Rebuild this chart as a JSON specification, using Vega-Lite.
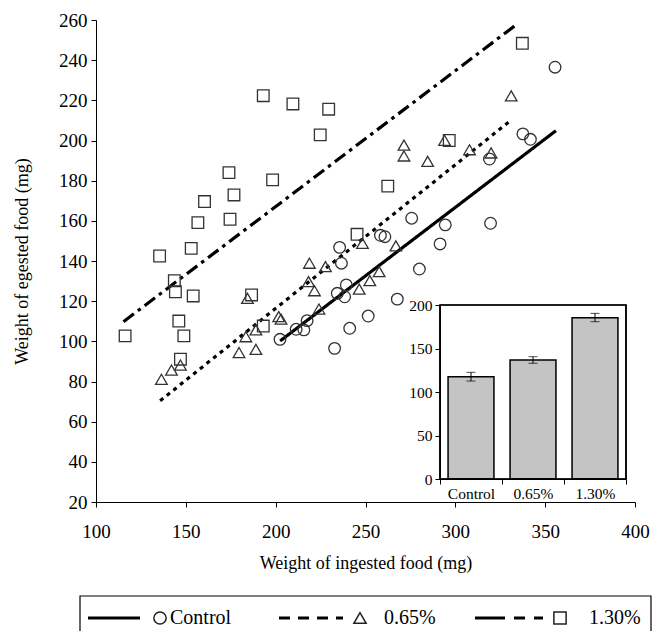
{
  "$schema": "https://vega.github.io/schema/vega-lite/v6.json",
  "background": "white",
  "autosize": {"type": "none"},
  "padding": {"left": 80, "top": 20, "right": 4, "bottom": 129},
  "width": 571,
  "height": 482,
  "config": {
    "font": "Liberation Serif",
    "view": {"stroke": null},
    "axis": {"labelColor": "black", "titleColor": "black", "domainColor": "black", "tickColor": "black", "grid": false, "labelFont": "Liberation Serif", "titleFont": "Liberation Serif", "titleFontWeight": "normal", "labelFlush": false, "labelOverlap": false}
  },
  "datasets": {
    "points": [
      {"group": "Control", "x": 202.4, "y": 101},
      {"group": "Control", "x": 211.4, "y": 106},
      {"group": "Control", "x": 215.7, "y": 105.7},
      {"group": "Control", "x": 217.5, "y": 110.3},
      {"group": "Control", "x": 232.8, "y": 96.5},
      {"group": "Control", "x": 234.3, "y": 123.9},
      {"group": "Control", "x": 235.6, "y": 146.8},
      {"group": "Control", "x": 236.6, "y": 138.9},
      {"group": "Control", "x": 238.4, "y": 122.2},
      {"group": "Control", "x": 239.3, "y": 128.1},
      {"group": "Control", "x": 241.2, "y": 106.5},
      {"group": "Control", "x": 251.5, "y": 112.6},
      {"group": "Control", "x": 258.3, "y": 152.8},
      {"group": "Control", "x": 260.8, "y": 152.1},
      {"group": "Control", "x": 267.7, "y": 121},
      {"group": "Control", "x": 275.7, "y": 161.3},
      {"group": "Control", "x": 280, "y": 136},
      {"group": "Control", "x": 291.5, "y": 148.5},
      {"group": "Control", "x": 294.4, "y": 158},
      {"group": "Control", "x": 319, "y": 190.8},
      {"group": "Control", "x": 319.6, "y": 158.8},
      {"group": "Control", "x": 337.6, "y": 203.3},
      {"group": "Control", "x": 341.8, "y": 200.6},
      {"group": "Control", "x": 355.5, "y": 236.5},
      {"group": "0.65%", "x": 136.4, "y": 81.1},
      {"group": "0.65%", "x": 142, "y": 85.7},
      {"group": "0.65%", "x": 147, "y": 88.2},
      {"group": "0.65%", "x": 179.6, "y": 94.4},
      {"group": "0.65%", "x": 189, "y": 96},
      {"group": "0.65%", "x": 183.4, "y": 102.3},
      {"group": "0.65%", "x": 189, "y": 105.7},
      {"group": "0.65%", "x": 184.3, "y": 121.4},
      {"group": "0.65%", "x": 201.7, "y": 112.3},
      {"group": "0.65%", "x": 203, "y": 111.1},
      {"group": "0.65%", "x": 218.3, "y": 129.7},
      {"group": "0.65%", "x": 218.8, "y": 138.9},
      {"group": "0.65%", "x": 221.6, "y": 125.2},
      {"group": "0.65%", "x": 224.1, "y": 116.1},
      {"group": "0.65%", "x": 227.7, "y": 137.2},
      {"group": "0.65%", "x": 246.5, "y": 126},
      {"group": "0.65%", "x": 252.4, "y": 130.2},
      {"group": "0.65%", "x": 257.6, "y": 134.7},
      {"group": "0.65%", "x": 248.3, "y": 148.8},
      {"group": "0.65%", "x": 266.9, "y": 147.5},
      {"group": "0.65%", "x": 271.4, "y": 197.7},
      {"group": "0.65%", "x": 271.4, "y": 192.3},
      {"group": "0.65%", "x": 284.6, "y": 189.6},
      {"group": "0.65%", "x": 294, "y": 200.1},
      {"group": "0.65%", "x": 307.9, "y": 195.4},
      {"group": "0.65%", "x": 319.9, "y": 193.8},
      {"group": "0.65%", "x": 331.1, "y": 222.2},
      {"group": "1.30%", "x": 116.2, "y": 102.7},
      {"group": "1.30%", "x": 135.4, "y": 142.5},
      {"group": "1.30%", "x": 143.6, "y": 130.2},
      {"group": "1.30%", "x": 144.2, "y": 124.7},
      {"group": "1.30%", "x": 146.1, "y": 110.1},
      {"group": "1.30%", "x": 148.9, "y": 102.7},
      {"group": "1.30%", "x": 147, "y": 91.1},
      {"group": "1.30%", "x": 153, "y": 146.3},
      {"group": "1.30%", "x": 154.1, "y": 122.6},
      {"group": "1.30%", "x": 156.7, "y": 159.1},
      {"group": "1.30%", "x": 160.4, "y": 169.6},
      {"group": "1.30%", "x": 174, "y": 184},
      {"group": "1.30%", "x": 174.6, "y": 160.8},
      {"group": "1.30%", "x": 176.8, "y": 172.9},
      {"group": "1.30%", "x": 186.6, "y": 123.1},
      {"group": "1.30%", "x": 193.1, "y": 222.3},
      {"group": "1.30%", "x": 193.1, "y": 107.6},
      {"group": "1.30%", "x": 198.3, "y": 180.4},
      {"group": "1.30%", "x": 209.6, "y": 218.2},
      {"group": "1.30%", "x": 224.8, "y": 202.8},
      {"group": "1.30%", "x": 229.5, "y": 215.6},
      {"group": "1.30%", "x": 245.3, "y": 153.3},
      {"group": "1.30%", "x": 262.4, "y": 177.3},
      {"group": "1.30%", "x": 296.6, "y": 200},
      {"group": "1.30%", "x": 337.3, "y": 248.4}
    ],
    "fits": [
      {"group": "Control", "x": 202.5, "y": 100.2},
      {"group": "Control", "x": 356, "y": 204.9},
      {"group": "0.65%", "x": 135.7, "y": 70.4},
      {"group": "0.65%", "x": 330, "y": 209.4},
      {"group": "1.30%", "x": 115.3, "y": 109.8},
      {"group": "1.30%", "x": 334.4, "y": 258}
    ],
    "bars": [
      {"group": "Control", "mean": 117.6, "low": 112.6, "high": 122.6},
      {"group": "0.65%", "mean": 136.8, "low": 133, "high": 140.6},
      {"group": "1.30%", "mean": 185.4, "low": 180.8, "high": 190.4}
    ],
    "legend": [
      {"group": "Control"},
      {"group": "0.65%"},
      {"group": "1.30%"}
    ]
  },
  "resolve": {"scale": {"x": "independent", "y": "independent", "shape": "independent", "strokeDash": "independent"}, "axis": {"x": "independent", "y": "independent"}},
  "layer": [
    {
      "layer": [
        {
          "data": {"name": "fits"},
          "mark": {"type": "line", "color": "black", "strokeWidth": 3.2},
          "encoding": {
            "x": {"field": "x", "type": "quantitative"},
            "y": {"field": "y", "type": "quantitative"},
            "strokeDash": {"field": "group", "type": "nominal", "scale": {"domain": ["Control", "0.65%", "1.30%"], "range": [[1, 0], [4, 4.5], [13, 5, 3.5, 5]]}, "legend": null}
          }
        },
        {
          "data": {"name": "points"},
          "mark": {"type": "point", "filled": false, "stroke": "#333333", "strokeWidth": 1.3, "size": 135, "opacity": 1},
          "encoding": {
            "x": {"field": "x", "type": "quantitative", "scale": {"domain": [100, 400], "range": [16, 555], "nice": false, "zero": false},
              "axis": {"title": "Weight of ingested food (mg)", "values": [100, 150, 200, 250, 300, 350, 400], "labelFontSize": 19, "titleFontSize": 18, "titlePadding": 13, "tickSize": 5, "labelPadding": 15}},
            "y": {"field": "y", "type": "quantitative", "scale": {"domain": [20, 260], "nice": false, "zero": false},
              "axis": {"title": "Weight of egested food (mg)", "offset": -16, "values": [20, 40, 60, 80, 100, 120, 140, 160, 180, 200, 220, 240, 260], "labelFontSize": 19, "titleFontSize": 18, "titlePadding": 27, "tickSize": 5, "labelPadding": 4}},
            "shape": {"field": "group", "type": "nominal", "scale": {"domain": ["Control", "0.65%", "1.30%"], "range": ["circle", "triangle-up", "square"]}, "legend": null}
          }
        }
      ]
    },
    {
      "data": {"name": "bars"},
      "layer": [
        {
          "mark": {"type": "bar", "fill": "#c4c4c4", "stroke": "black", "strokeWidth": 1.5, "width": {"band": 0.74}},
          "encoding": {
            "x": {"field": "group", "type": "nominal", "sort": null,
              "scale": {"type": "band", "domain": ["Control", "0.65%", "1.30%"], "range": [360, 546], "paddingInner": 0, "paddingOuter": 0},
              "axis": {"title": null, "orient": "bottom", "offset": -23, "labelAngle": 0, "labelFontSize": 15.5, "tickBand": "extent", "tickSize": 5, "labelPadding": 2}},
            "y": {"field": "mean", "type": "quantitative",
              "scale": {"domain": [0, 200], "range": [459, 285], "nice": false},
              "axis": {"title": null, "orient": "left", "offset": -360, "values": [0, 50, 100, 150, 200], "labelFontSize": 15.5, "tickSize": 5, "labelPadding": 3}}
          }
        },
        {
          "mark": {"type": "errorbar", "ticks": {"size": 9, "color": "black"}, "color": "black"},
          "encoding": {
            "x": {"field": "group", "type": "nominal"},
            "y": {"field": "low", "type": "quantitative"},
            "y2": {"field": "high"}
          }
        },
        {
          "mark": {"type": "rect", "fill": null, "fillOpacity": 0, "stroke": "black", "strokeWidth": 1.2},
          "encoding": {
            "x": {"datum": "Control", "type": "nominal", "bandPosition": 0},
            "x2": {"datum": "1.30%", "bandPosition": 1},
            "y": {"datum": 0, "type": "quantitative"},
            "y2": {"datum": 200}
          }
        }
      ]
    },
    {
      "data": {"name": "legend"},
      "encoding": {
        "x": {"field": "group", "type": "nominal", "bandPosition": 0, "scale": {"type": "band", "domain": ["Control", "0.65%", "1.30%"], "range": [0, 600], "paddingInner": 0, "paddingOuter": 0}, "axis": null},
        "y": {"datum": 0.5, "type": "quantitative", "scale": {"domain": [0, 1], "range": [620, 576], "nice": false, "zero": false}, "axis": null}
      },
      "layer": [
        {
          "transform": [{"filter": "datum.group === 'Control'"}],
          "mark": {"type": "rule", "color": "black", "strokeWidth": 3, "xOffset": 8, "x2Offset": 60},
          "encoding": {"x2": {"field": "group", "bandPosition": 0}}
        },
        {
          "transform": [{"filter": "datum.group === '0.65%'"}],
          "mark": {"type": "rule", "color": "black", "strokeWidth": 3, "xOffset": -1, "x2Offset": 63, "strokeDash": [11, 8]},
          "encoding": {"x2": {"field": "group", "bandPosition": 0}}
        },
        {
          "transform": [{"filter": "datum.group === '1.30%'"}],
          "mark": {"type": "rule", "color": "black", "strokeWidth": 3, "xOffset": -5, "x2Offset": 63, "strokeDash": [30, 9, 11, 9, 11, 20]},
          "encoding": {"x2": {"field": "group", "bandPosition": 0}}
        },
        {
          "mark": {"type": "point", "filled": false, "stroke": "#222222", "strokeWidth": 1.5, "size": 150, "xOffset": 80, "opacity": 1},
          "encoding": {
            "shape": {"field": "group", "type": "nominal", "scale": {"domain": ["Control", "0.65%", "1.30%"], "range": ["circle", "triangle-up", "square"]}, "legend": null}
          }
        },
        {
          "transform": [{"filter": "datum.group === 'Control'"}],
          "mark": {"type": "text", "align": "left", "baseline": "middle", "fontSize": 20, "xOffset": 90, "color": "black"},
          "encoding": {"text": {"field": "group"}}
        },
        {
          "transform": [{"filter": "datum.group === '0.65%'"}],
          "mark": {"type": "text", "align": "left", "baseline": "middle", "fontSize": 20, "xOffset": 104, "color": "black"},
          "encoding": {"text": {"field": "group"}}
        },
        {
          "transform": [{"filter": "datum.group === '1.30%'"}],
          "mark": {"type": "text", "align": "left", "baseline": "middle", "fontSize": 20, "xOffset": 109, "color": "black"},
          "encoding": {"text": {"field": "group"}}
        },
        {
          "data": {"values": [{"box": "legend"}]},
          "mark": {"type": "rect", "fill": null, "fillOpacity": 0, "stroke": "black", "strokeWidth": 1.2},
          "encoding": {
            "x": {"datum": "Control", "type": "nominal", "bandPosition": 0},
            "x2": {"datum": "1.30%", "bandPosition": 0.855},
            "y": {"datum": 0, "type": "quantitative"},
            "y2": {"datum": 1}
          }
        }
      ]
    }
  ]
}
